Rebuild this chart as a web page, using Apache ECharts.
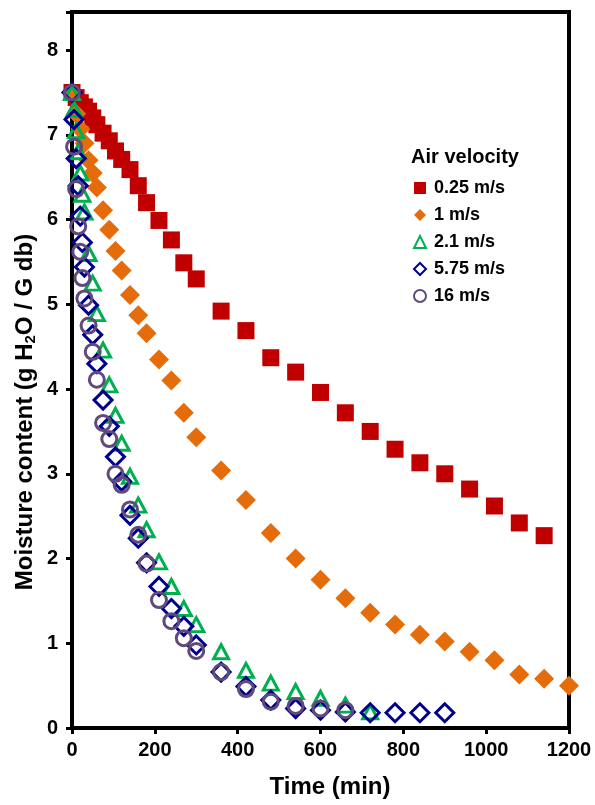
<!DOCTYPE html>
<html>
<head>
<meta charset="utf-8">
<script src="https://cdn.jsdelivr.net/npm/echarts@6/dist/echarts.min.js"></script>
<style>
html,body{margin:0;padding:0;background:#fff;}
#chart{width:595px;height:805px;}
</style>
</head>
<body>
<div id="chart"></div>
<script>
// ---- data ----
const seriesNames = ['0.25 m/s', '1 m/s', '2.1 m/s', '5.75 m/s', '16 m/s'];
const xTicks = [0, 200, 400, 600, 800, 1000, 1200];
const yTicks = [0, 1, 2, 3, 4, 5, 6, 7, 8];

const timeA = [0,10,20,30,40,50,60,75,90,105,120,140,160,180,210,240,270,300,360,420,480,540,600,660,720,780,840,900,960,1020,1080,1140];
const moistA = [7.50,7.44,7.38,7.33,7.28,7.20,7.12,7.02,6.93,6.81,6.71,6.59,6.40,6.20,5.99,5.76,5.49,5.30,4.92,4.69,4.37,4.20,3.96,3.72,3.50,3.29,3.13,3.00,2.82,2.62,2.42,2.27];

const timeB = [0,10,20,30,40,50,60,75,90,105,120,140,160,180,210,240,270,300,360,420,480,540,600,660,720,780,840,900,960,1020,1080,1140,1200];
const moistB = [7.50,7.25,7.07,6.90,6.70,6.55,6.38,6.11,5.88,5.63,5.40,5.11,4.87,4.66,4.35,4.10,3.72,3.43,3.04,2.69,2.30,2.00,1.75,1.53,1.36,1.22,1.10,1.02,0.90,0.80,0.63,0.58,0.50];

const timeC = [0,5,10,15,20,25,30,40,50,60,75,90,105,120,140,160,180,210,240,270,300,360,420,480,540,600,660,720];
const moistC = [7.50,7.30,7.05,6.80,6.55,6.30,6.09,5.60,5.25,4.89,4.46,4.05,3.69,3.36,2.97,2.63,2.34,1.96,1.67,1.41,1.22,0.90,0.68,0.53,0.43,0.35,0.27,0.19];

const timeD = [0,5,10,15,20,25,30,40,50,60,75,90,105,120,140,160,180,210,240,270,300,360,420,480,540,600,660,720,780,840,900];
const moistD = [7.50,7.18,6.72,6.40,6.04,5.73,5.44,4.99,4.64,4.30,3.87,3.56,3.20,2.91,2.51,2.24,1.95,1.67,1.41,1.20,0.98,0.66,0.49,0.33,0.23,0.21,0.19,0.18,0.18,0.18,0.18];

const timeE = [0,5,10,15,20,25,30,40,50,60,75,90,105,120,140,160,180,210,240,270,300,360,420,480,540,600,660];
const moistE = [7.50,6.86,6.36,5.92,5.62,5.31,5.07,4.75,4.44,4.11,3.60,3.41,3.00,2.87,2.58,2.28,1.94,1.51,1.26,1.06,0.91,0.66,0.46,0.31,0.26,0.23,0.21];

function pairs(t, m) { return t.map((v, i) => [v, m[i]]); }

const FONT = '"Liberation Sans", Arial, sans-serif';
const chart = echarts.init(document.getElementById('chart'), null, {renderer: 'canvas'});

const option = {
  animation: false,
  backgroundColor: '#ffffff',
  grid: {
    left: 72, right: 26, top: 12, bottom: 77,
    show: true, borderColor: '#000', borderWidth: 4, backgroundColor: 'transparent'
  },
  xAxis: {
    type: 'value', min: xTicks[0], max: xTicks[xTicks.length - 1], interval: 200,
    axisLine: {show: true, lineStyle: {color: '#000', width: 4}},
    axisTick: {show: true, inside: false, length: 6, lineStyle: {color: '#000', width: 3}},
    splitLine: {show: false},
    axisLabel: {fontFamily: FONT, fontWeight: 'bold', fontSize: 20, color: '#000', margin: 12,
      formatter: v => String(v)}
  },
  yAxis: {
    type: 'value', min: yTicks[0], max: 8.45, interval: 1,
    axisLine: {show: true, lineStyle: {color: '#000', width: 4}},
    axisTick: {show: true, inside: false, length: 6, lineStyle: {color: '#000', width: 3}},
    splitLine: {show: false},
    axisLabel: {
      fontFamily: FONT, fontWeight: 'bold', fontSize: 20, color: '#000', margin: 14,
      formatter: v => (yTicks.indexOf(v) >= 0 ? String(v) : '')
    }
  },
  legend: {
    orient: 'vertical', left: 408, top: 173,
    itemWidth: 12, itemHeight: 12, itemGap: 7,
    data: seriesNames,
    textStyle: {fontFamily: FONT, fontWeight: 'bold', fontSize: 18, color: '#000', lineHeight: 20, padding: [0, 0, 0, 3]}
  },
  graphic: [
    {type: 'text', silent: true, z: 100, x: 465, y: 157,
     style: {text: 'Air velocity', align: 'center', verticalAlign: 'middle',
             font: 'bold 20px ' + FONT, fill: '#000'}},
    {type: 'text', silent: true, z: 100, x: 330, y: 787,
     style: {text: 'Time (min)', align: 'center', verticalAlign: 'middle',
             font: 'bold 24px ' + FONT, fill: '#000'}},
    {type: 'text', silent: true, z: 100, x: 25, y: 412, rotation: Math.PI / 2,
     style: {text: '{a|Moisture content (g H}{s|2}{a|O / G db)}', align: 'center', verticalAlign: 'middle',
             rich: {
               a: {fontFamily: FONT, fontWeight: 'bold', fontSize: 24, fill: '#000', color: '#000'},
               s: {fontFamily: FONT, fontWeight: 'bold', fontSize: 15, fill: '#000', color: '#000', padding: [11, 0, 0, 0]}
             }}}
  ],
  series: [
    {name: seriesNames[0], type: 'scatter', data: pairs(timeA, moistA), symbol: 'rect', symbolSize: 17,
     itemStyle: {color: '#C00000', opacity: 1}, z: 2},
    {name: seriesNames[1], type: 'scatter', data: pairs(timeB, moistB), symbol: 'diamond', symbolSize: 20,
     itemStyle: {color: '#E46C0A', opacity: 1}, z: 3},
    {name: seriesNames[2], type: 'scatter', data: pairs(timeC, moistC), symbol: 'triangle', symbolSize: [15, 14],
     itemStyle: {color: 'rgba(255,255,255,0)', borderColor: '#00B050', borderWidth: 3, opacity: 1}, z: 4},
    {name: seriesNames[3], type: 'scatter', data: pairs(timeD, moistD), symbol: 'diamond', symbolSize: 18,
     itemStyle: {color: 'rgba(255,255,255,0)', borderColor: '#000090', borderWidth: 3, opacity: 1}, z: 5},
    {name: seriesNames[4], type: 'scatter', data: pairs(timeE, moistE), symbol: 'circle', symbolSize: 15,
     itemStyle: {color: 'rgba(255,255,255,0)', borderColor: '#604A7B', borderWidth: 3, opacity: 1}, z: 6}
  ]
};
chart.setOption(option);
</script>
</body>
</html>
